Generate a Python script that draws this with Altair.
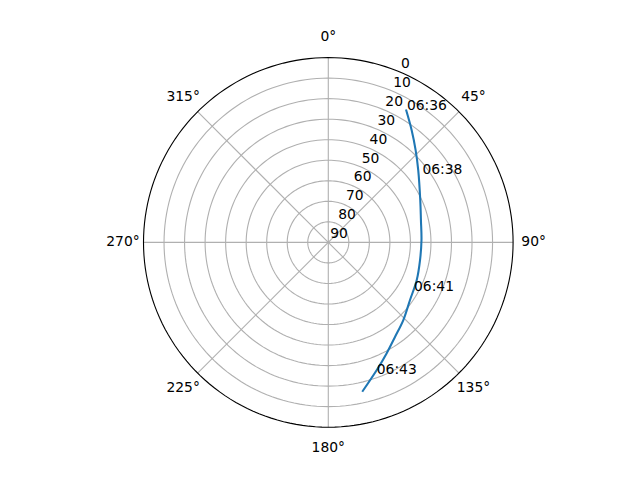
import altair as alt
import pandas as pd

# Satellite pass (azimuth in degrees clockwise from north, elevation in degrees)
pass_az = [30.3, 36.6, 43.4, 51.2, 65.3, 76.5, 88.5, 100.9, 113.0, 125.2, 136.0, 144.7, 152.2, 159.2, 167.2]
pass_el = [15.0, 21.9, 28.1, 33.8, 40.7, 43.6, 44.6, 44.5, 43.2, 41.3, 37.4, 33.7, 29.0, 23.5, 15.4]

# Time labels along the pass
time_text = ["06:36", "06:38", "06:41", "06:43"]
time_az = [30.7, 53.8, 119.6, 159.8]
time_el = [15.0, 33.2, 42.0, 21.7]

# Grid
ring_el = [10, 20, 30, 40, 50, 60, 70, 80]
spoke_az = [0, 45, 90, 135, 180, 225, 270, 315]
spoke_text = ["0°", "45°", "90°", "135°", "180°", "225°", "270°", "315°"]
radial_el = [0, 10, 20, 30, 40, 50, 60, 70, 80, 90]
radial_text = ["0", "10", "20", "30", "40", "50", "60", "70", "80", "90"]

SIZE = 369.6
FONT = "DejaVu Sans"
FS = 13.9
GRID = "#b0b0b0"

xs = alt.Scale(domain=[-90, 90], nice=False, zero=False)
ys = alt.Scale(domain=[-90, 90], nice=False, zero=False)

def X(f):
    return alt.X(f, type="quantitative", scale=xs, axis=None)

def Y(f):
    return alt.Y(f, type="quantitative", scale=ys, axis=None)

polar_x = "(90 - datum.el) * sin(datum.az * PI / 180)"
polar_y = "(90 - datum.el) * cos(datum.az * PI / 180)"

def circle_layer(df, color, width):
    return (
        alt.Chart(df)
        .transform_calculate(az="sequence(0, 362, 2)")
        .transform_flatten(["az"])
        .transform_calculate(px=polar_x, py=polar_y)
        .mark_line(color=color, strokeWidth=width)
        .encode(x=X("px"), y=Y("py"), detail="el:N", order="az:Q")
    )

rings = circle_layer(pd.DataFrame({"el": ring_el}), GRID, 1.11)

spokes = (
    alt.Chart(pd.DataFrame({"az": spoke_az}))
    .transform_calculate(el="90")
    .transform_calculate(px="0", py="0", px2="90 * sin(datum.az * PI / 180)", py2="90 * cos(datum.az * PI / 180)")
    .mark_rule(color=GRID, strokeWidth=1.11)
    .encode(x=X("px"), y=Y("py"), x2="px2:Q", y2="py2:Q")
)

curve = (
    alt.Chart(pd.DataFrame({"az": pass_az, "el": pass_el, "i": list(range(len(pass_az)))}))
    .transform_calculate(px=polar_x, py=polar_y)
    .mark_line(color="#1f77b4", strokeWidth=2.08, interpolate="catmull-rom")
    .encode(x=X("px"), y=Y("py"), order="i:Q")
)

outer = circle_layer(pd.DataFrame({"el": [0]}), "black", 1.11)

spoke_labels = (
    alt.Chart(pd.DataFrame({"az": spoke_az, "t": spoke_text}))
    .transform_calculate(px="100 * sin(datum.az * PI / 180)", py="100 * cos(datum.az * PI / 180)")
    .mark_text(font=FONT, fontSize=FS, align="center", baseline="middle", color="black")
    .encode(x=X("px"), y=Y("py"), text="t:N")
)

radial_labels = (
    alt.Chart(pd.DataFrame({"el": radial_el, "t": radial_text}))
    .transform_calculate(az="22.5")
    .transform_calculate(px=polar_x, py=polar_y)
    .mark_text(font=FONT, fontSize=FS, align="left", baseline="bottom", dx=2, dy=-1, color="black")
    .encode(x=X("px"), y=Y("py"), text="t:N")
)

time_labels = (
    alt.Chart(pd.DataFrame({"az": time_az, "el": time_el, "t": time_text}))
    .transform_calculate(px=polar_x, py=polar_y)
    .mark_text(font=FONT, fontSize=FS, align="left", baseline="alphabetic", color="black")
    .encode(x=X("px"), y=Y("py"), text="t:N")
)

chart = (
    alt.layer(rings, spokes, curve, outer, spoke_labels, radial_labels, time_labels)
    .properties(
        width=SIZE,
        height=SIZE,
        autosize=alt.AutoSizeParams(type="none"),
        padding={"left": 135.5, "top": 49.6, "right": 110, "bottom": 40},
    )
    .configure_view(strokeWidth=0)
)

chart.save("out.html", embed_options={"renderer": "svg", "actions": False})
